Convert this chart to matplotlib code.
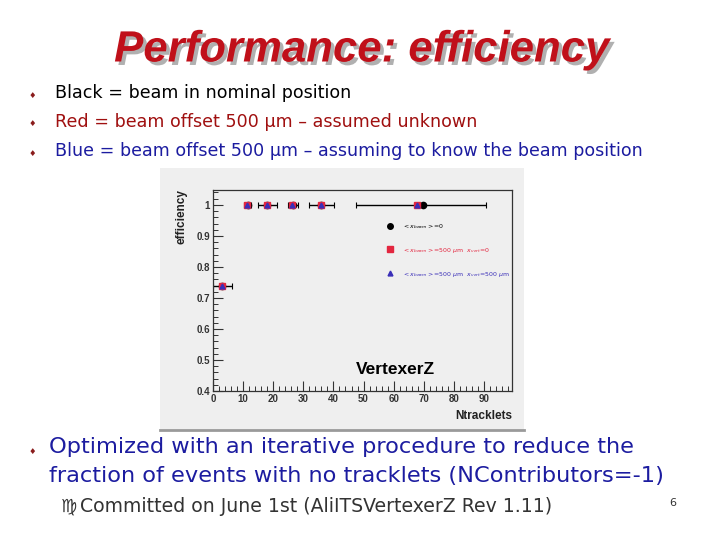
import matplotlib
matplotlib.use("Agg")
import matplotlib.pyplot as plt
import matplotlib.patheffects as pe
from matplotlib.patches import Rectangle
from matplotlib.lines import Line2D
from matplotlib.ticker import MultipleLocator, FuncFormatter
import numpy as np

# ---------------- data ----------------
x_black = [3.1, 11.5, 18.0, 26.5, 36.0, 69.8]
y_black = [0.74, 1.0, 1.0, 1.0, 1.0, 1.0]
xerr_lo = [3.1, 1.2, 2.9, 1.7, 4.2, 22.2]
xerr_hi = [3.1, 1.1, 3.2, 1.7, 4.1, 20.9]
x_red = [3.1, 11.3, 17.9, 26.3, 35.8, 67.8]
y_red = [0.74, 1.0, 1.0, 1.0, 1.0, 1.0]
x_blue = [3.1, 11.3, 17.9, 26.3, 35.8, 67.8]
y_blue = [0.74, 1.0, 1.0, 1.0, 1.0, 1.0]
labels = [r"$<x_{beam}>$=0",
          r"$<x_{beam}>$=500 $\mu$m  $x_{vert}$=0",
          r"$<x_{beam}>$=500 $\mu$m  $x_{vert}$=500 $\mu$m"]

W, H = 720, 540
fig = plt.figure(figsize=(7.2, 5.4), dpi=100)
fig.patch.set_facecolor("white")

def fx(px):
    return px / W

def fy(py):
    return 1 - py / H

# panel background of embedded plot
fig.patches.append(Rectangle((fx(160), fy(430)), fx(524) - fx(160), fy(168) - fy(430),
                             transform=fig.transFigure, facecolor="#efefef",
                             edgecolor="none", zorder=-10))
fig.add_artist(Line2D([fx(160), fx(524)], [fy(430), fy(430)], transform=fig.transFigure,
                      color="#9a9a9a", lw=2, zorder=-9))

ax = fig.add_axes([fx(213), fy(391), fx(512) - fx(213), fy(190) - fy(391)])
ax.set_zorder(1)
ax.set_facecolor("#efefef")
ax.set_xlim(0, 99.3)
ax.set_ylim(0.4, 1.048)

red_c = "#e3263f"
blue_c = "#3a2fb8"

ax.errorbar(x_black, y_black, xerr=[xerr_lo, xerr_hi], fmt="none", ecolor="black",
            elinewidth=1.0, capsize=2, capthick=0.8, zorder=2)
ax.plot(x_black, y_black, "o", color="black", ms=4.5, zorder=3)
ax.plot(x_red, y_red, "s", color=red_c, ms=5, zorder=4)
ax.plot(x_blue, y_blue, "^", color=blue_c, ms=3.5, zorder=5)

for s in ax.spines.values():
    s.set_color("#333333")
    s.set_linewidth(0.9)

ax.xaxis.set_major_locator(MultipleLocator(10))
ax.xaxis.set_minor_locator(MultipleLocator(2))
ax.yaxis.set_major_locator(MultipleLocator(0.1))
ax.yaxis.set_minor_locator(MultipleLocator(0.02))
ax.yaxis.set_major_formatter(FuncFormatter(lambda v, p: "1" if abs(v - 1) < 1e-6 else f"{v:.1f}"))
ax.tick_params(which="both", direction="in", top=False, right=False, colors="#333333")
ax.tick_params(which="major", length=7, width=0.8, labelsize=7, pad=2)
ax.tick_params(which="minor", length=3.5, width=0.7)
for lab in ax.get_xticklabels() + ax.get_yticklabels():
    lab.set_fontweight("bold")
    lab.set_color("#333333")
    lab.set_family("Liberation Sans")

ax.text(47.5, 0.47, "VertexerZ", fontsize=12.5, fontweight="bold",
        family="Liberation Sans", color="black", va="center", ha="left")

handles = [Line2D([], [], ls="none", marker="o", color="black", ms=4),
           Line2D([], [], ls="none", marker="s", color=red_c, ms=4),
           Line2D([], [], ls="none", marker="^", color=blue_c, ms=3.5)]
leg = ax.legend(handles, labels, loc="upper left", bbox_to_anchor=(0.56, 0.87),
                fontsize=4.5, frameon=False, labelspacing=2.4, handlelength=1.2,
                handletextpad=1.4, labelcolor=["black", red_c, blue_c])

fig.text(fx(181), fy(217), "efficiency", rotation=90, ha="center", va="center",
         fontsize=8.5, fontweight="bold", family="Liberation Sans", color="#222222")
fig.text(fx(512), fy(416), "Ntracklets", ha="right", va="center",
         fontsize=8.5, fontweight="bold", family="Liberation Sans", color="#222222")

# ---------------- slide text ----------------
fig.text(fx(362), fy(50), "Performance: efficiency", color="#c0101a",
         ha="center", va="center", fontsize=31.5, fontweight="bold",
         style="italic", family="Liberation Sans",
         path_effects=[pe.SimplePatchShadow(offset=(2.5, -2.5), shadow_rgbFace="#b0b0b0", alpha=1.0),
                       pe.Normal()])

bullets = [("Black = beam in nominal position", "black", 93),
           ("Red = beam offset 500 \u00b5m \u2013 assumed unknown", "#a01010", 122),
           ("Blue = beam offset 500 \u00b5m \u2013 assuming to know the beam position", "#1c1ca0", 151)]
for txt, col, py in bullets:
    fig.text(fx(32), fy(py + 2), "\u2666", color="#8a1c1c", fontsize=6, ha="center", va="center")
    fig.text(fx(55), fy(py), txt, color=col, fontsize=12.6, ha="left", va="center",
             family="DejaVu Sans")

fig.text(fx(32), fy(451), "\u2666", color="#8a1c1c", fontsize=6, ha="center", va="center")
fig.text(fx(49), fy(447), "Optimized with an iterative procedure to reduce the",
         color="#1c1ca0", fontsize=16.2, ha="left", va="center")
fig.text(fx(49), fy(476), "fraction of events with no tracklets (NContributors=-1)",
         color="#1c1ca0", fontsize=16.2, ha="left", va="center")
fig.text(fx(68), fy(507), "\u264d", color="#333333", fontsize=13, ha="center", va="center")
fig.text(fx(80), fy(507), "Committed on June 1st (AliITSVertexerZ Rev 1.11)",
         color="#333333", fontsize=13.6, ha="left", va="center")
fig.text(fx(673), fy(503), "6", color="#333333", fontsize=8, ha="center", va="center")

fig.savefig("out.png", dpi=100, facecolor="white")
